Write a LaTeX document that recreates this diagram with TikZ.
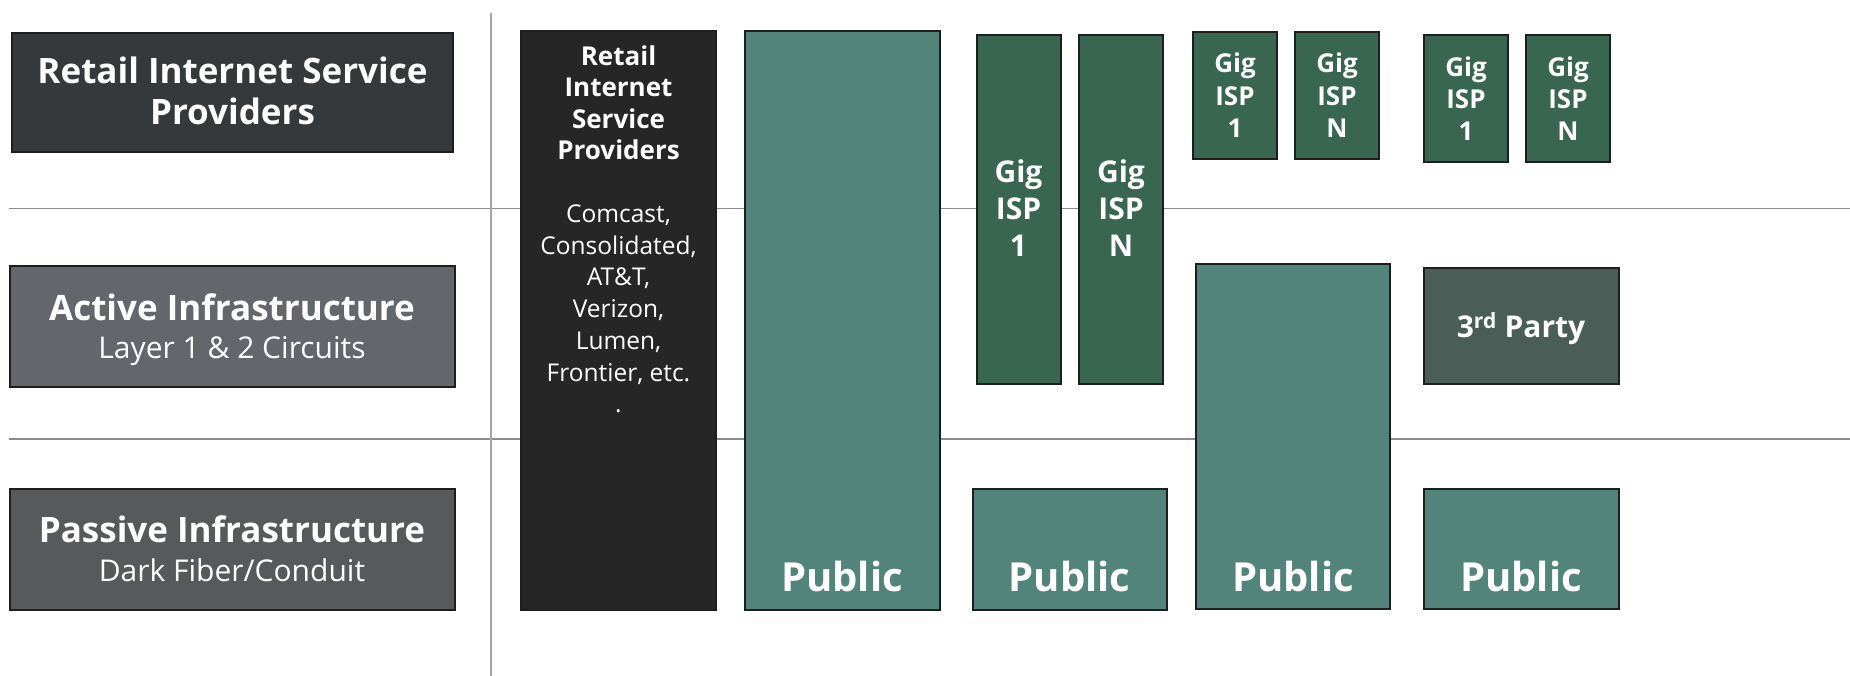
\documentclass[tikz,border=0pt]{standalone}
\usepackage{fontspec}
\setmainfont{Open Sans}
\definecolor{lblA}{HTML}{36393C}
\definecolor{lblB}{HTML}{63666A}
\definecolor{lblC}{HTML}{58595B}
\definecolor{blk}{HTML}{262626}
\definecolor{teal}{HTML}{52847B}
\definecolor{gig}{HTML}{386650}
\definecolor{third}{HTML}{4A5D57}
\definecolor{edge}{HTML}{1E1E1E}
\definecolor{grid}{HTML}{8C8C8C}
\definecolor{vgrid}{HTML}{A6A6A6}
\tikzset{
  box/.style={draw=edge, line width=2pt, inner sep=0pt, outer sep=0pt, anchor=north west},
  txt/.style={text=white, inner sep=0pt, anchor=base},
  hb/.style={txt, font=\fontsize{35}{41}\selectfont\bfseries},
  sub/.style={txt, font=\fontsize{30}{36}\selectfont},
  bkb/.style={txt, font=\fontsize{26}{31}\selectfont\bfseries},
  bkr/.style={txt, font=\fontsize{24.5}{31}\selectfont},
  gigt/.style={txt, font=\fontsize{30}{36}\selectfont\bfseries},
  gigs/.style={txt, font=\fontsize{26}{30}\selectfont\bfseries},
  pubt/.style={txt, font=\fontsize{40}{48}\selectfont\bfseries},
}
\begin{document}
\begin{tikzpicture}[x=1pt, y=-1pt]
\useasboundingbox (0,0) rectangle (1850,676);
% grid lines
\coordinate (h1l) at (9,208.5);
\coordinate (h1r) at (1850,208.5);
\coordinate (h2l) at (9,439);
\coordinate (h2r) at (1850,439);
\coordinate (vt) at (491,13);
\coordinate (vb) at (491,676);
\draw[grid, line width=1.4pt] (h1l) -- (h1r);
\draw[grid, line width=1.4pt] (h2l) -- (h2r);
\draw[vgrid, line width=1.4pt] (vt) -- (vb);

% left labels
\node[box, fill=lblA, minimum width=441.5, minimum height=118.5] (lab1) at (11.5,33.5) {};
\node[hb] (lab1a) at (232.5,84) {Retail Internet Service};
\node[hb] (lab1b) at (232.5,125) {Providers};

\node[box, fill=lblB, minimum width=445, minimum height=121] (lab2) at (9.5,266) {};
\node[hb] (lab2a) at (232,320) {Active Infrastructure};
\node[sub] (lab2b) at (232,358) {Layer 1 \& 2 Circuits};

\node[box, fill=lblC, minimum width=445, minimum height=121.5] (lab3) at (9.5,488.5) {};
\node[hb] (lab3a) at (232,542) {Passive Infrastructure};
\node[sub] (lab3b) at (232,581) {Dark Fiber/Conduit};

% black retail column
\node[box, fill=blk, minimum width=195, minimum height=579] (ret) at (521,31) {};
\node[bkb] (ret1) at (618.5,65.5) {Retail};
\node[bkb] (ret2) at (618.5,97) {Internet};
\node[bkb] (ret3) at (618.5,128.5) {Service};
\node[bkb] (ret4) at (618.5,160) {Providers};
\node[bkr] (co1) at (618.5,223) {Comcast,};
\node[bkr] (co2) at (618.5,254.5) {Consolidated,};
\node[bkr] (co3) at (618.5,286) {AT\&T,};
\node[bkr] (co4) at (618.5,317.5) {Verizon,};
\node[bkr] (co5) at (618.5,349) {Lumen,};
\node[bkr] (co6) at (618.5,381) {Frontier, etc.};
\node[bkr] (co7) at (618.5,412) {.};

% public column 1
\node[box, fill=teal, minimum width=194.5, minimum height=578.5] (pub1) at (745,31.5) {};
\node[pubt] (pub1t) at (842,591) {Public};

% tall gig ISPs
\node[box, fill=gig, minimum width=83.5, minimum height=348.5] (gt1) at (977,35.5) {};
\node[gigt] (gt1a) at (1018.5,183) {Gig};
\node[gigt] (gt1b) at (1018.5,220) {ISP};
\node[gigt] (gt1c) at (1018.5,257) {1};
\node[box, fill=gig, minimum width=84, minimum height=348.5] (gt2) at (1079,35.5) {};
\node[gigt] (gt2a) at (1121,183) {Gig};
\node[gigt] (gt2b) at (1121,220) {ISP};
\node[gigt] (gt2c) at (1121,257) {N};

\node[box, fill=teal, minimum width=194.5, minimum height=121.5] (pub2) at (972.5,488.5) {};
\node[pubt] (pub2t) at (1069.5,591) {Public};

% small gig ISPs group 1
\node[box, fill=gig, minimum width=84, minimum height=126.5] (gs1) at (1193,32.5) {};
\node[gigs] (gs1a) at (1235,73) {Gig};
\node[gigs] (gs1b) at (1235,105.5) {ISP};
\node[gigs] (gs1c) at (1235,137.5) {1};
\node[box, fill=gig, minimum width=84, minimum height=126.5] (gs2) at (1295,32.5) {};
\node[gigs] (gs2a) at (1337,73) {Gig};
\node[gigs] (gs2b) at (1337,105.5) {ISP};
\node[gigs] (gs2c) at (1337,137.5) {N};

\node[box, fill=teal, minimum width=194, minimum height=345] (pub3) at (1196,264) {};
\node[pubt] (pub3t) at (1293,591) {Public};

% small gig ISPs group 2
\node[box, fill=gig, minimum width=84, minimum height=126.5] (gs3) at (1424,35.5) {};
\node[gigs] (gs3a) at (1466,76.5) {Gig};
\node[gigs] (gs3b) at (1466,109) {ISP};
\node[gigs] (gs3c) at (1466,141) {1};
\node[box, fill=gig, minimum width=84, minimum height=126.5] (gs4) at (1526,35.5) {};
\node[gigs] (gs4a) at (1568,76.5) {Gig};
\node[gigs] (gs4b) at (1568,109) {ISP};
\node[gigs] (gs4c) at (1568,141) {N};

\node[box, fill=third, minimum width=194.5, minimum height=116] (trd) at (1424,268) {};
\node[gigt] (trdt) at (1521,337.5) {3\textsuperscript{rd} Party};

\node[box, fill=teal, minimum width=194.5, minimum height=120.5] (pub4) at (1424,488.5) {};
\node[pubt] (pub4t) at (1521,591) {Public};
\end{tikzpicture}
\end{document}
